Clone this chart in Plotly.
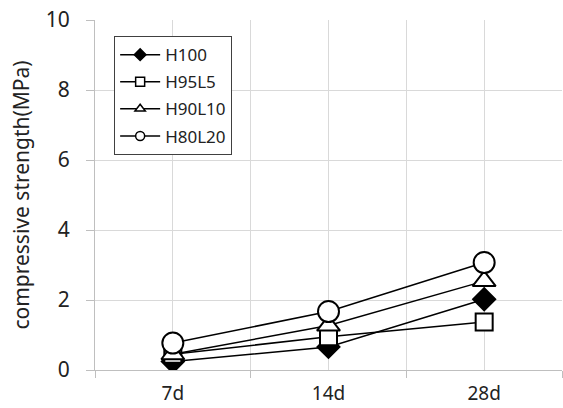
import plotly.graph_objects as go

categories = ["7d", "14d", "28d"]
series_names = ["H100", "H95L5", "H90L10", "H80L20"]
h100 = [0.24, 0.66, 2.02]
h95l5 = [0.45, 0.95, 1.37]
h90l10 = [0.45, 1.27, 2.54]
h80l20 = [0.77, 1.67, 3.07]
y_ticks = [0, 2, 4, 6, 8, 10]

values = [h100, h95l5, h90l10, h80l20]
symbols = ["diamond", "square", "triangle-up", "circle"]
fills = ["black", "white", "white", "white"]
sizes = [17, 17, 20, 21]
legend_sizes = [9, 9, 9, 9]

xpos = list(range(len(categories)))
FONT = "Noto Sans"

fig = go.Figure()
for name, vals, sym, fc, sz in zip(series_names, values, symbols, fills, sizes):
    fig.add_trace(go.Scatter(
        x=xpos, y=vals, mode="lines+markers", name=name, showlegend=False,
        line=dict(color="black", width=1.5),
        marker=dict(symbol=sym, size=sz, color=fc, line=dict(color="black", width=2)),
    ))
for name, sym, fc, sz in zip(series_names, symbols, fills, legend_sizes):
    fig.add_trace(go.Scatter(
        x=[None], y=[None], mode="lines+markers", name=name, legendgroup=name,
        line=dict(color="black", width=1.5),
        marker=dict(symbol=sym, size=sz, color=fc, line=dict(color="black", width=1.5)),
    ))

fig.update_layout(
    width=563, height=408,
    margin=dict(l=95, r=1, t=20, b=38),
    paper_bgcolor="white", plot_bgcolor="white",
    font=dict(family=FONT, size=20, color="#222222"),
    showlegend=True,
    legend=dict(
        x=0.041, y=0.954, xanchor="left", yanchor="top",
        bordercolor="#404040", borderwidth=1, bgcolor="white",
        font=dict(family=FONT, size=17, color="#222222"),
        tracegroupgap=2, itemwidth=40,
    ),
    xaxis=dict(
        range=[-0.5, 2.5], tickvals=xpos, ticktext=categories,
        ticks="", showgrid=True, gridcolor="#d9d9d9", gridwidth=1,
        showline=True, linecolor="#bfbfbf", linewidth=1,
        zeroline=False, ticklabelstandoff=6, automargin=False,
        tickfont=dict(family=FONT, size=19, color="#222222"),
        minor=dict(tickvals=[-0.5, 0.5, 1.5, 2.5], ticks="outside", ticklen=7,
                   tickcolor="#bfbfbf", showgrid=True, gridcolor="#d9d9d9"),
    ),
    yaxis=dict(
        range=[0, 10], tickvals=y_ticks, ticks="outside", ticklen=8,
        tickcolor="#bfbfbf", showgrid=True, gridcolor="#d9d9d9",
        showline=True, linecolor="#bfbfbf", linewidth=1, zeroline=False,
        ticklabelstandoff=12, automargin=False,
        tickfont=dict(family=FONT, size=21, color="#222222"),
        title=dict(text="compressive strength(MPa)", standoff=10,
                   font=dict(family=FONT, size=21, color="#222222")),
    ),
)

fig.write_html("out.html", config={"displayModeBar": False},
               post_script="document.body.style.margin='0';")
